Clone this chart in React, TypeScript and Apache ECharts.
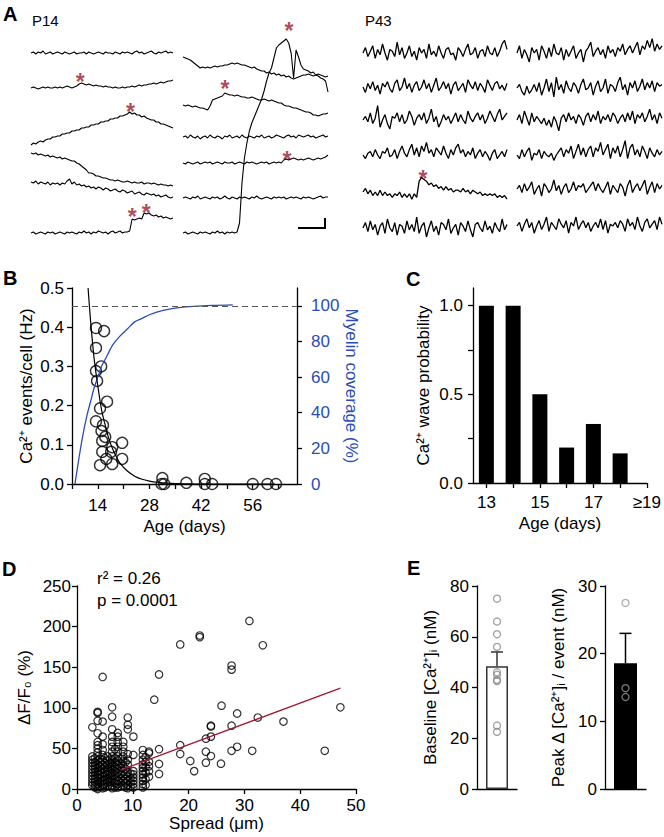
import React, { useEffect, useRef } from "react";
import * as echarts from "echarts";

const FONT = "'Liberation Sans', Arial, Helvetica, sans-serif";
const RED = "#9e1b32";
const STAR = "#9c1a2e";
const BLUE = "#2b4db5";

// ---------- Panel A : P14 traces (amplitude units) ----------
const p14L1 = [0,1,-1,1,0,2,-1,0,1,-1, 0,1,0,-1,1,0,-1,0,1,-1, 0,0,1,-1,1,0,-1,0,1,0, -1,1,0,0,-1,1,0,-1,1,0, 1,0,-1,1,2,0,1,-1,0,1, 2,0,-1,1,0,1,2,0,1,0];
const p14L2 = [0,1,0,-1,0,1,0,1,0,0, 1,0,1,0,1,2,1,0,1,2, 4,5,4,3,4,3,2,3,2,2, 1,2,1,1,0,1,0,0,1,0, 1,1,2,1,2,3,2,3,3,4, 4,5,4,5,6,5,6,7,7,8];
const p14L3 = [0,2,1,3,4,3,5,6,6,8, 8,9,9,11,11,12,12,14,14,15, 15,17,17,18,18,20,20,21,21,23, 23,24,24,26,26,27,27,29,29,30, 31,33,31,32,30,30,28,29,27,26, 25,25,23,23,21,21,20,19,18,17];
const p14L4 = [0,-1,0,-2,-1,-2,-3,-2,-4,-3, -4,-5,-4,-6,-5,-6,-7,-8,-8,-10, -11,-13,-15,-17,-20,-20,-21,-23,-23,-24, -25,-25,-26,-27,-27,-28,-27,-28,-29,-29, -28,-29,-30,-29,-30,-30,-29,-31,-30,-30, -31,-30,-31,-32,-31,-32,-32,-33,-32,-33];
const p14L5 = [0,-1,1,-2,0,-1,-2,0,-3,-1, -2,-1,-3,-1,-2,1,3,-2,0,-3, -2,-4,-3,-5,-4,-6,-5,-7,-5,-6, -8,-6,-7,-9,-8,-7,-9,-10,-8,-9, -11,-10,-9,-12,-11,-10,-12,-13,-11,-12, -13,-12,-14,-13,-15,-14,-13,-15,-16,-15];
const p14L6 = [0,1,-1,0,1,0,-1,1,0,1, -1,0,1,0,-1,1,0,1,0,-1, 1,0,2,0,1,-1,1,0,2,1, 0,1,-1,1,2,0,1,2,0,1, 1,2,14,13,14,15,14,20,19,20, 18,17,18,16,17,15,16,15,14,15];
const p14R1 = [0,-1,-2,-3,-5,-7,-9,-11,-10,-11, -10,-11,-10,-9,-10,-9,-9,-8,-8,-7, -6,-7,-6,-7,-8,-8,-9,-10,-11,-10, -12,-13,-14,-14,-16,-15,-17,-16,-18,-17, -19,-18,-20,-19,-21,-22,-21,-20,-19,-18, -18,-17,-18,-19,-18,-17,-18,-19,-20,-19];
const p14R2 = [0,-1,0,-1,-2,-1,-2,-3,-3,-4, -5,-1,5,6,7,8,9,12,11,10, 10,9,10,9,8,8,7,7,8,7, 6,5,5,6,5,4,5,4,3,2, 2,0,-1,-1,-2,-3,-3,-4,-5,-6, -7,-7,-8,-10,-10,-11,-10,-9,-9,-8];
const p14R3 = [0,1,-1,2,0,-1,1,-2,0,1, -1,2,0,-1,1,0,-2,1,0,2, -1,0,1,-1,2,0,-1,1,0,-1, 1,0,2,-1,0,1,-1,0,2,1, 0,-1,1,2,0,1,-1,2,1,0, 1,2,0,1,-1,0,1,2,0,1];
const p14R4 = [0,-1,1,0,-1,0,1,-1,0,1, 0,1,-1,0,1,0,-1,1,0,0, 1,-1,0,1,0,-1,1,0,1,0, -1,0,1,0,1,-1,0,1,0,1, 0,3,4,3,4,5,4,3,4,3, 4,5,4,3,4,5,4,5,6,8];
const p14R5 = [0,1,0,-1,1,0,2,-1,0,1, 0,-1,1,0,1,-1,0,2,0,-1, 1,0,-1,1,0,1,0,-1,1,0, 2,0,-1,0,1,0,-1,1,0,1, 0,1,-1,0,1,0,1,0,-1,1, 0,1,0,-1,0,1,2,0,1,1];
const p14R6 = [0,1,-1,0,1,0,-1,1,0,1, 0,-1,1,0,2,0,1,-1,1,0, 1,0,1,10,50,75,90,102,110,116, 122,128,134,142,152,160,165,175,185,188, 190,192,194,190,180,155,183,176,168,164, 163,162,160,161,158,157,155,154,152,141];

// ---------- Panel A : P43 traces ----------
const p43L1 = [0,3,-2,1,4,-3,2,-1,5,0, -4,2,1,-2,6,-1,3,-3,0,4, -2,1,-4,3,0,2,-3,5,-1,1, -2,4,0,-3,2,3,-1,0,-4,3, 1,-2,2,5,-1,0,3,-3,1,2, -2,4,0,-1,3,-2,1,5,7,2];
const p43L2 = [0,-3,2,-1,3,-2,1,-4,2,0, 3,-1,-3,2,4,-2,0,5,-1,2, -3,1,3,-2,0,4,-1,2,-3,1, 5,-2,0,3,-1,2,-4,1,3,-2, 0,2,-3,4,1,-1,3,-2,2,0, -3,4,1,-2,2,3,-1,1,-2,2];
const p43L3 = [0,2,-1,4,-2,1,8,-4,0,3, -2,-5,2,1,4,-1,3,-2,0,5, 2,-3,1,3,0,4,-2,1,6,-1, 2,-4,-1,3,0,2,-2,1,4,-1, 3,0,-2,5,1,-1,2,4,0,3, -2,1,5,2,-1,3,6,0,2,4];
const p43L4 = [0,-2,1,2,-1,3,0,-2,2,1, 4,-1,0,3,-2,2,5,1,-1,3, 6,0,4,-1,5,2,7,1,3,-1, 4,2,0,5,1,-2,3,0,4,6, 1,3,-1,2,0,4,-2,1,3,-1, 2,0,-3,1,3,-2,0,2,-1,3];
const p43L5 = [0,2,-1,1,-2,0,-2,1,-2,0, -2,-1,-3,-1,-2,0,-3,-1,-3,-1, -4,-1,-3,6,8,7,6,4,5,3, 4,2,3,1,3,1,2,0,1,1, 0,2,0,1,-1,1,0,-1,0,-2, -1,-2,-1,-2,-1,-3,-2,-3,-2,-4];
const p43L6 = [0,3,-2,4,-1,2,-4,1,3,-3, 5,0,-2,3,-4,2,1,-3,4,-1, 2,-2,6,-3,1,3,-5,0,4,-2, 1,-4,3,2,-1,5,-3,0,2,-4, 3,1,-2,4,-1,-5,2,3,0,-2, 4,-1,1,-3,3,0,-2,5,-1,2];
const p43R1 = [0,4,-3,2,-1,-5,3,0,2,-4, 4,1,-3,3,-2,5,0,-1,3,-4, 2,-2,1,4,-3,0,2,-5,1,3, 6,-2,1,3,-1,2,-3,4,0,2, -2,3,1,5,-1,2,4,0,3,6, -1,4,2,7,3,8,1,5,2,4];
const p43R2 = [0,2,-2,-4,1,-3,-1,2,-2,3, -4,0,5,-2,3,-5,6,-1,2,-3, 4,0,-2,3,1,-3,2,5,-1,0, 3,-4,1,4,-2,0,5,-3,2,1, -2,3,6,-1,2,-4,3,0,4,-2, 1,5,-1,3,0,4,-2,3,1,2];
const p43R3 = [0,3,-2,5,1,-3,4,-1,2,0, -2,1,-3,0,-4,2,-1,-6,1,3, -1,4,0,2,-2,3,1,-3,2,4, -1,3,0,5,-2,2,0,3,-1,4, 2,-2,1,3,-1,4,0,5,-2,3, 1,4,-1,2,6,0,3,-2,4,1];
const p43R4 = [0,-2,3,-1,2,4,-3,1,0,3, -2,2,0,-1,1,-3,0,2,4,-1, 3,1,5,-2,2,6,0,4,-1,3, 5,-1,4,2,7,0,3,6,-2,4, 1,5,-1,3,8,-2,4,6,0,3, -1,5,2,-2,4,1,-1,3,0,2];
const p43R5 = [0,2,-2,3,-1,1,4,-3,0,2, -4,3,1,-2,0,5,-1,2,-3,1, 3,-2,0,4,-1,2,1,3,-2,0, 2,4,-1,3,0,-2,1,4,-3,2, 0,-2,3,1,-4,2,5,-2,1,3, -1,2,5,-3,1,4,-2,3,0,2];
const p43R6 = [0,2,-3,1,4,-1,2,-4,0,3, -2,1,5,-3,2,0,-2,4,1,-1, 3,-4,2,0,5,-2,1,3,-1,2, -3,0,2,-1,4,-2,3,-4,1,0, 2,-1,3,1,-3,4,0,2,-2,5, 0,-3,2,4,-1,1,3,-2,5,1];

// event markers [sample index, amplitude]
const starsP14L2 = [[20.4, 12]];
const starsP14L3 = [[41.3, 39]];
const starsP14L6 = [[42.1, 22], [47.9, 26]];
const starsP14R2 = [[17.1, 22]];
const starsP14R4 = [[42.3, 9]];
const starsP14R6 = [[43.1, 208]];
const starsP43L5 = [[24.6, 10.5]];

// ---------- Panel B ----------
const bAge = [13.5,15.7,13.5,14.9,13.5,13.8,16.5,14.6,13.5,15.4, 15.0,16.0,15.2,17.9,15.2,17.6,20.6,16.3,17.9,20.6, 14.6,31.5,31.3,32,38,43,43,45,56,60, 62.3];
const bRate = [0.398,0.39,0.347,0.30,0.288,0.263,0.21,0.193,0.16,0.15, 0.135,0.12,0.11,0.094,0.082,0.082,0.105,0.064,0.051,0.064, 0.048,0.015,0,0,0.003,0.013,0,0,0,0, 0];
const bFitAge = [11.36,12,13,14,15,16,17,18,19,20,22,24,26,28,30,34,40,50,62];
const bFitRate = [0.5,0.42,0.32,0.25,0.19,0.15,0.115,0.09,0.07,0.053,0.033,0.02,0.012,0.0075,0.0045,0.0015,0.0003,0,0];
const myelinAge = [7.8,9,10,11,12,13,14,15,16,17,18,20,22,24,26,28,30,33,36,40,45,50.6];
const myelinPct = [0,16,28,38,46,54,60,66,70,74,78,83,87,91,93,95,96.5,98,99,99.7,100.2,100.5];
const bAgeTicks = [7,14,21,28,35,42,49,56,63];
const bAgeLabels = [14,28,42,56];
const bRateTicks = [0,0.1,0.2,0.3,0.4,0.5];
const bPctTicks = [0,20,40,60,80,100];

// ---------- Panel C ----------
const cAge = [13,14,15,16,17,18];
const cProb = [1,1,0.5,0.2,0.333,0.167];
const cAgeTicks = [13,14,15,16,17,18,19];
const cAgeLabels = [13,15,17,19];
const cProbTicks = [0,0.25,0.5,0.75,1];
const cProbLabels = [0,0.5,1];

// ---------- Panel D ----------
const dPoints = [
  [2.75,76],[2.75,40],[2.75,36],[2.75,32],[2.75,28],[2.75,24],[2.75,20],[2.75,16],[2.75,12],[2.75,8],[2.75,4.6],
  [3.2,38],[3.2,33],[3.2,29],[3.2,25],[3.2,21],[3.2,17],[3.2,13],[3.2,9],[3.2,5],[3.2,2],
  [3.7,95],[3.7,93.6],[3.7,84],[3.7,68.6],[3.7,58],[3.7,54],[3.7,50],[3.7,45],[3.7,40],[3.7,35],[3.7,30],[3.7,26],[3.7,22],[3.7,18],[3.7,14],[3.7,10],[3.7,6],[3.7,2],[3.7,0],
  [4.1,37],[4.1,33],[4.1,28],[4.1,23],[4.1,18],[4.1,13],[4.1,8],[4.1,3],
  [4.6,138],[4.6,83],[4.6,64.5],[4.6,55],[4.6,48],[4.6,42],[4.6,36],[4.6,30],[4.6,25],[4.6,20],[4.6,15],[4.6,10],[4.6,5],[4.6,1],
  [5.0,38],[5.0,32],[5.0,27],[5.0,21],[5.0,16],[5.0,11],[5.0,6],[5.0,2],
  [5.5,40],[5.5,35],[5.5,30],[5.5,26],[5.5,22],[5.5,18],[5.5,12],[5.5,8],[5.5,4],
  [5.9,36],[5.9,31],[5.9,25],[5.9,19],[5.9,14],[5.9,9],[5.9,3],
  [6.3,100.6],[6.3,89],[6.3,73.5],[6.3,64.5],[6.3,58],[6.3,52],[6.3,46],[6.3,40],[6.3,36],[6.3,32],[6.3,28],[6.3,24],[6.3,20],[6.3,16],[6.3,12],[6.3,8],[6.3,4],[6.3,1],
  [6.8,49],[6.8,38],[6.8,33],[6.8,27],[6.8,22],[6.8,17],[6.8,12],[6.8,7],[6.8,2],
  [7.3,69],[7.3,64.5],[7.3,58],[7.3,52],[7.3,46],[7.3,40],[7.3,35],[7.3,30],[7.3,25],[7.3,20],[7.3,15],[7.3,10],[7.3,6],[7.3,2],
  [7.8,37],[7.8,31],[7.8,26],[7.8,19],[7.8,13],[7.8,8],[7.8,3],
  [8.3,58],[8.3,52],[8.3,46],[8.3,40],[8.3,34],[8.3,28],[8.3,22],[8.3,16],[8.3,10],[8.3,4],
  [8.7,33],[8.7,25],[8.7,18],[8.7,12],[8.7,7],[8.7,2],
  [9.1,88],[9.1,79],[9.1,73.5],[9.1,43],[9.1,36],[9.1,30],[9.1,20],[9.1,15],[9.1,10],[9.1,5],[9.1,1],
  [9.6,19],[9.6,13],[9.6,8],[9.6,3],
  [10.1,64.5],[10.1,42],[10.1,22],[10.1,18],[10.1,14],[10.1,10],[10.1,6],[10.1,2],
  [11.8,48],[11.8,42],[11.8,36],[11.8,30],[11.8,26],[11.8,22],[11.8,18],[11.8,14],[11.8,10],[11.8,6],[11.8,2],
  [12.3,39],[12.3,33],[12.3,27],[12.3,20],[12.3,12],[12.3,5],
  [12.9,46],[12.9,44],[12.9,33.6],[12.9,28],[12.9,22],[12.9,15],
  [13.85,110],[14.7,141],[14.7,49],[14.7,30.8],[14.7,18.5],
  [18.5,178],[18.5,54],[18.5,43],[20.3,34.5],[21,22],[22,189],[22,187],
  [23.1,62],[23.1,46],[23.1,32.4],[24,78],[24,77],[24,64.5],[24,40.6],
  [25.8,31.2],[25.9,102.6],[27.7,152],[27.7,147],[27.7,78],[27.7,47],
  [28.7,93],[28.7,52],[30.9,207],[31.4,47],[32.4,88],[33.3,177],[37,83],[44.4,47],[47.2,100.6]
];
const dFit = [[7.8,23.3],[47.2,124.3]];

// ---------- Panel E ----------
const e1Points = [75,66,61,56,46,45,43,42.5,25,22.5];
const e1Mean = 48.4;
const e1ErrTop = 54;
const e2Points = [27.5,14.9,13.6];
const e2Mean = 18.6;
const e2ErrTop = 23;

function buildOption() {
  const grid: any[] = [];
  const xAxis: any[] = [];
  const yAxis: any[] = [];
  const series: any[] = [];
  const graphic: any[] = [];

  // scale: pixels per amplitude unit; the grid box is kept inside the canvas
  const addTrace = (data: number[], left: number, width: number, base: number, stars?: number[][], lw = 1.1, scale = 1) => {
    const gi = grid.length;
    const up = Math.min(215, (base - 4) / scale);
    const down = 40;
    grid.push({ left, width, top: base - up * scale, height: (up + down) * scale });
    xAxis.push({ gridIndex: gi, type: "value", min: 0, max: data.length - 1, show: false });
    yAxis.push({ gridIndex: gi, type: "value", min: -down, max: up, show: false });
    const xi = xAxis.length - 1;
    const yi = yAxis.length - 1;
    series.push({
      type: "line", xAxisIndex: xi, yAxisIndex: yi, data: data.map((v, i) => [i, v]),
      symbol: "none", clip: false, silent: true, lineStyle: { color: "#000", width: lw },
    });
    if (stars) {
      series.push({
        type: "scatter", xAxisIndex: xi, yAxisIndex: yi, data: stars, symbolSize: 1, silent: true, clip: false,
        itemStyle: { color: "rgba(0,0,0,0)" },
        label: { show: true, formatter: "*", position: "inside", color: STAR, fontSize: 23, fontWeight: "bold", fontFamily: FONT, offset: [0, 6] },
      });
    }
  };

  // P14 left
  addTrace(p14L1, 31, 142, 53);
  addTrace(p14L2, 31, 142, 88, starsP14L2);
  addTrace(p14L3, 31, 142, 145, starsP14L3);
  addTrace(p14L4, 31, 142, 153);
  addTrace(p14L5, 31, 142, 182);
  addTrace(p14L6, 31, 142, 233, starsP14L6);
  // P14 right
  addTrace(p14R1, 183, 145, 57);
  addTrace(p14R2, 183, 145, 105, starsP14R2);
  addTrace(p14R3, 183, 145, 137);
  addTrace(p14R4, 183, 145, 163, starsP14R4);
  addTrace(p14R5, 183, 145, 198);
  addTrace(p14R6, 183, 145, 233, starsP14R6);
  // P43 left
  const S43 = 1.8;
  addTrace(p43L1, 363, 144, 53, undefined, 1.3, S43);
  addTrace(p43L2, 363, 144, 87, undefined, 1.3, S43);
  addTrace(p43L3, 363, 144, 120, undefined, 1.3, S43);
  addTrace(p43L4, 363, 144, 155, undefined, 1.3, S43);
  addTrace(p43L5, 363, 144, 192, starsP43L5, 1.3, S43);
  addTrace(p43L6, 363, 144, 228, undefined, 1.3, S43);
  // P43 right
  addTrace(p43R1, 517, 145, 53, undefined, 1.3, S43);
  addTrace(p43R2, 517, 145, 88, undefined, 1.3, S43);
  addTrace(p43R3, 517, 145, 120, undefined, 1.3, S43);
  addTrace(p43R4, 517, 145, 155, undefined, 1.3, S43);
  addTrace(p43R5, 517, 145, 189, undefined, 1.3, S43);
  addTrace(p43R6, 517, 145, 226, undefined, 1.3, S43);

  const axisLine = { show: true, onZero: false, lineStyle: { color: "#000", width: 1.3 } };
  const tick = (vals?: number[]) => ({ show: true, length: 5, inside: false, lineStyle: { color: "#000", width: 1.3 }, ...(vals ? { customValues: vals } : {}) });
  const lbl = (extra: any) => ({ color: "#000", fontSize: 17, fontFamily: FONT, ...extra });
  const nameStyle = (color = "#000") => ({ color, fontSize: 17, fontFamily: FONT });

  // ---- Panel B ----
  const gB = grid.length;
  grid.push({ left: 72, top: 288, width: 225, height: 196 });
  const bx = xAxis.length;
  xAxis.push({
    gridIndex: gB, type: "value", min: 7, max: 68, axisLine, axisTick: tick(bAgeTicks),
    axisLabel: lbl({ customValues: bAgeLabels, margin: 13 }), splitLine: { show: false },
    name: "Age (days)", nameLocation: "middle", nameGap: 34, nameTextStyle: nameStyle(),
  });
  const byL = yAxis.length;
  yAxis.push({
    gridIndex: gB, type: "value", position: "left", min: 0, max: 0.5, axisLine, axisTick: tick(bRateTicks),
    axisLabel: lbl({ customValues: bRateTicks, margin: 8, formatter: (v: number) => v.toFixed(1) }), splitLine: { show: false },
    name: "Ca²⁺ events/cell (Hz)", nameLocation: "middle", nameGap: 37, nameTextStyle: nameStyle(),
  });
  const byR = yAxis.length;
  yAxis.push({
    gridIndex: gB, type: "value", position: "right", min: 0, max: 110, axisLine, axisTick: tick(bPctTicks),
    axisLabel: lbl({ customValues: bPctTicks, margin: 14, color: BLUE }), splitLine: { show: false },
    name: "Myelin coverage (%)", nameLocation: "middle", nameRotate: -90, nameGap: 42, nameTextStyle: nameStyle(BLUE),
  });
  series.push({
    type: "line", xAxisIndex: bx, yAxisIndex: byR, data: myelinAge.map((a, i) => [a, myelinPct[i]]),
    symbol: "none", smooth: 0.3, lineStyle: { color: BLUE, width: 1.3 }, silent: true, clip: true,
    markLine: { silent: true, symbol: ["none", "none"], label: { show: false }, lineStyle: { color: "#555", type: [6, 4], width: 1 }, data: [{ yAxis: 100 }] },
  });
  series.push({
    type: "line", xAxisIndex: bx, yAxisIndex: byL, data: bFitAge.map((a, i) => [a, bFitRate[i]]),
    symbol: "none", smooth: 0.3, lineStyle: { color: "#000", width: 1.2 }, silent: true,
  });
  series.push({
    type: "scatter", xAxisIndex: bx, yAxisIndex: byL, data: bAge.map((a, i) => [a, bRate[i]]),
    symbol: "circle", symbolSize: 11, itemStyle: { color: "rgba(255,255,255,0)", borderColor: "#000", borderWidth: 1.4 }, silent: true, clip: false,
  });

  // ---- Panel C ----
  const gC = grid.length;
  grid.push({ left: 473, top: 288, width: 175, height: 195 });
  const cx = xAxis.length;
  xAxis.push({
    gridIndex: gC, type: "value", min: 12.5, max: 19, axisLine, axisTick: tick(cAgeTicks),
    axisLabel: lbl({ customValues: cAgeLabels, margin: 11, formatter: (v: number) => (v === 19 ? "≥19" : String(v)) }), splitLine: { show: false },
    name: "Age (days)", nameLocation: "middle", nameGap: 32, nameTextStyle: nameStyle(),
  });
  const cy = yAxis.length;
  yAxis.push({
    gridIndex: gC, type: "value", min: 0, max: 1.1, axisLine, axisTick: tick(cProbTicks),
    axisLabel: lbl({ customValues: cProbLabels, margin: 10, formatter: (v: number) => v.toFixed(1) }), splitLine: { show: false },
    name: "Ca²⁺ wave probability", nameLocation: "middle", nameGap: 41, nameTextStyle: nameStyle(),
  });
  series.push({
    type: "bar", xAxisIndex: cx, yAxisIndex: cy, data: cAge.map((a, i) => [a, cProb[i]]), barWidth: 15,
    itemStyle: { color: "#000" }, silent: true,
  });

  // ---- Panel D ----
  const gD = grid.length;
  grid.push({ left: 77, top: 586, width: 279, height: 203 });
  const dx = xAxis.length;
  xAxis.push({
    gridIndex: gD, type: "value", min: 0, max: 50, interval: 10, axisLine, axisTick: tick(),
    axisLabel: lbl({ margin: 8 }), splitLine: { show: false },
    name: "Spread (μm)", nameLocation: "middle", nameGap: 26, nameTextStyle: nameStyle(),
  });
  const dy = yAxis.length;
  yAxis.push({
    gridIndex: gD, type: "value", min: 0, max: 250, interval: 50, axisLine, axisTick: tick(),
    axisLabel: lbl({ margin: 6 }), splitLine: { show: false },
    name: "ΔF/F₀ (%)", nameLocation: "middle", nameGap: 44, nameTextStyle: nameStyle(),
  });
  series.push({
    type: "scatter", xAxisIndex: dx, yAxisIndex: dy, data: dPoints, symbol: "circle", symbolSize: 7.5,
    itemStyle: { color: "rgba(255,255,255,0)", borderColor: "#000", borderWidth: 1.2 }, silent: true, clip: false,
  });
  series.push({
    type: "line", xAxisIndex: dx, yAxisIndex: dy, data: dFit, symbol: "none",
    lineStyle: { color: RED, width: 1.3 }, silent: true, z: 5,
  });

  const errBar = (color: string) => (params: any, api: any) => {
    const x = api.value(0);
    const p1 = api.coord([x, api.value(1)]);
    const p2 = api.coord([x, api.value(2)]);
    const st = { stroke: color, lineWidth: 1.5 };
    return {
      type: "group",
      children: [
        { type: "line", shape: { x1: p1[0], y1: p1[1], x2: p2[0], y2: p2[1] }, style: st },
        { type: "line", shape: { x1: p2[0] - 6, y1: p2[1], x2: p2[0] + 6, y2: p2[1] }, style: st },
      ],
    };
  };

  // ---- Panel E1 ----
  const gE1 = grid.length;
  grid.push({ left: 477, top: 586, width: 40, height: 203 });
  const e1x = xAxis.length;
  xAxis.push({ gridIndex: gE1, type: "value", min: 0, max: 1, axisLine, axisTick: { show: false }, axisLabel: { show: false }, splitLine: { show: false } });
  const e1y = yAxis.length;
  yAxis.push({
    gridIndex: gE1, type: "value", min: 0, max: 80, interval: 20, axisLine, axisTick: tick(),
    axisLabel: lbl({ margin: 8 }), splitLine: { show: false },
    name: "Baseline [Ca²⁺]ᵢ (nM)", nameLocation: "middle", nameGap: 38, nameTextStyle: nameStyle(),
  });
  series.push({
    type: "bar", xAxisIndex: e1x, yAxisIndex: e1y, data: [[0.5, e1Mean]], barWidth: 22,
    itemStyle: { color: "#fff", borderColor: "#333", borderWidth: 1.5 }, silent: true,
  });
  series.push({ type: "custom", xAxisIndex: e1x, yAxisIndex: e1y, data: [[0.5, e1Mean, e1ErrTop]], renderItem: errBar("#333"), silent: true });
  series.push({
    type: "scatter", xAxisIndex: e1x, yAxisIndex: e1y, data: e1Points.map((v) => [0.5, v]), symbol: "circle", symbolSize: 7,
    itemStyle: { color: "rgba(255,255,255,0)", borderColor: "#8a8a8a", borderWidth: 1.3 }, silent: true,
  });

  // ---- Panel E2 ----
  const gE2 = grid.length;
  grid.push({ left: 605, top: 586, width: 41, height: 203 });
  const e2x = xAxis.length;
  xAxis.push({ gridIndex: gE2, type: "value", min: 0, max: 1, axisLine, axisTick: { show: false }, axisLabel: { show: false }, splitLine: { show: false } });
  const e2y = yAxis.length;
  yAxis.push({
    gridIndex: gE2, type: "value", min: 0, max: 30, interval: 10, axisLine, axisTick: tick(),
    axisLabel: lbl({ margin: 8 }), splitLine: { show: false },
    name: "Peak Δ [Ca²⁺]ᵢ / event (nM)", nameLocation: "middle", nameGap: 38, nameTextStyle: nameStyle(),
  });
  series.push({
    type: "bar", xAxisIndex: e2x, yAxisIndex: e2y, data: [[0.5, e2Mean]], barWidth: 23,
    itemStyle: { color: "#000" }, silent: true,
  });
  series.push({ type: "custom", xAxisIndex: e2x, yAxisIndex: e2y, data: [[0.5, e2Mean, e2ErrTop]], renderItem: errBar("#000"), silent: true });
  series.push({
    type: "scatter", xAxisIndex: e2x, yAxisIndex: e2y, data: e2Points.map((v) => [0.5, v]), symbol: "circle", symbolSize: 7,
    itemStyle: { color: "rgba(255,255,255,0)", borderColor: "#999", borderWidth: 1.3 }, silent: true,
  });

  // ---- texts & scale bar ----
  const txt = (text: string, x: number, y: number, size: number, bold = false) => ({
    type: "text", x, y, silent: true,
    style: { text, fontSize: size, fontWeight: bold ? "bold" : "normal", fontFamily: FONT, fill: "#000", textAlign: "left", textVerticalAlign: "middle", verticalAlign: "middle" },
  });
  graphic.push(txt("A", 3, 14, 20, true));
  graphic.push(txt("P14", 32, 20, 15));
  graphic.push(txt("P43", 365, 20, 15));
  graphic.push(txt("B", 3, 278, 20, true));
  graphic.push(txt("C", 406, 279, 20, true));
  graphic.push(txt("D", 2, 569, 20, true));
  graphic.push(txt("E", 407, 568, 20, true));
  graphic.push(txt("r² = 0.26", 97, 578, 17));
  graphic.push(txt("p = 0.0001", 97, 600, 17));
  graphic.push({
    type: "polyline", silent: true, shape: { points: [[298, 228], [325, 228], [325, 218]] },
    style: { stroke: "#000", lineWidth: 2, fill: "none" },
  });

  return {
    animation: false,
    backgroundColor: "#fff",
    textStyle: { fontFamily: FONT },
    grid, xAxis, yAxis, series, graphic,
  };
}

export default function App() {
  const ref = useRef<HTMLDivElement>(null);
  useEffect(() => {
    const chart = echarts.init(ref.current as HTMLDivElement, null, { renderer: "svg" });
    chart.setOption(buildOption() as any);
    return () => chart.dispose();
  }, []);
  return <div ref={ref} style={{ position: "fixed", left: 0, top: 0, width: 664, height: 837, background: "#fff" }} />;
}
